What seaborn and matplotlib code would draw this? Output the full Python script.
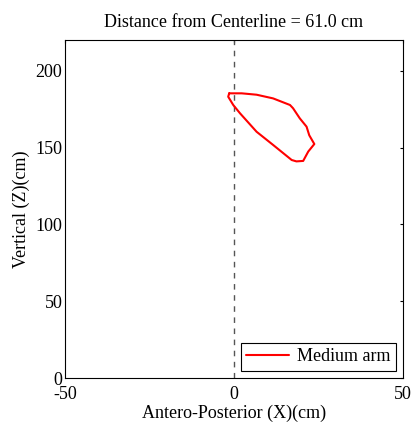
import matplotlib
matplotlib.use("Agg")
import matplotlib.pyplot as plt
import seaborn as sns
import pandas as pd

title = "Distance from Centerline = 61.0 cm"
x_label = "Antero-Posterior (X)(cm)"
y_label = "Vertical (Z)(cm)"
series_name = "Medium arm"
x_vals = [-1.4, 2.3, 6.7, 11.6, 16.6, 17.5, 19.5, 21.5, 22.3, 23.8, 22.0, 20.5, 18.5, 17.1,
          11.6, 6.7, 1.8, -0.2, -1.7, -1.4]
z_vals = [185.3, 185.3, 184.4, 182.0, 177.7, 175.6, 169.0, 163.6, 158.0, 152.3, 147.4, 141.3,
          141.0, 141.9, 151.7, 160.3, 172.3, 177.7, 183.1, 185.3]
x_ticks = [-50, 0, 50]
y_ticks = [0, 50, 100, 150, 200]

sns.set_theme(style="white")
plt.rcParams['font.family'] = ['Liberation Serif', 'DejaVu Serif']
plt.rcParams['font.size'] = 13
plt.rcParams['axes.unicode_minus'] = False
plt.rcParams['text.color'] = 'black'
plt.rcParams['axes.labelcolor'] = 'black'

df = pd.DataFrame({"x": x_vals, "z": z_vals, "order": range(len(x_vals))})

fig = plt.figure(figsize=(4.17, 4.28), dpi=100)
ax = fig.add_axes([0.156, 0.1168, 0.810, 0.7897])
ax.axvline(0, color="#555555", linestyle=(0, (4, 4)), linewidth=1.0)
sns.lineplot(data=df, x="x", y="z", sort=False, estimator=None, color="red",
             linewidth=1.5, ax=ax, label=series_name)
ax.set_xlim(-50, 50)
ax.set_ylim(0, 220)
ax.set_xticks(x_ticks)
ax.set_yticks(y_ticks)
ax.tick_params(direction="in", length=2.5, width=0.8, top=True, right=True, labelsize=13,
               colors="black")
ax.tick_params(axis="x", pad=6)
ax.tick_params(axis="y", pad=2)
for s in ax.spines.values():
    s.set_color("black")
    s.set_linewidth(0.8)
ax.set_xlabel(x_label, fontsize=13, labelpad=1, color="black")
ax.set_ylabel(y_label, fontsize=13, labelpad=3.5, color="black")
ax.set_title(title, fontsize=13, pad=9.5, color="black")
leg = ax.legend(loc="lower right", fancybox=False, framealpha=1, edgecolor="black",
                fontsize=13, handlelength=2.4, borderaxespad=0.4, borderpad=0.3,
                handletextpad=0.4)
for t in leg.get_texts():
    t.set_color("black")
leg.get_frame().set_linewidth(0.8)
fig.savefig("out.png", dpi=100)
